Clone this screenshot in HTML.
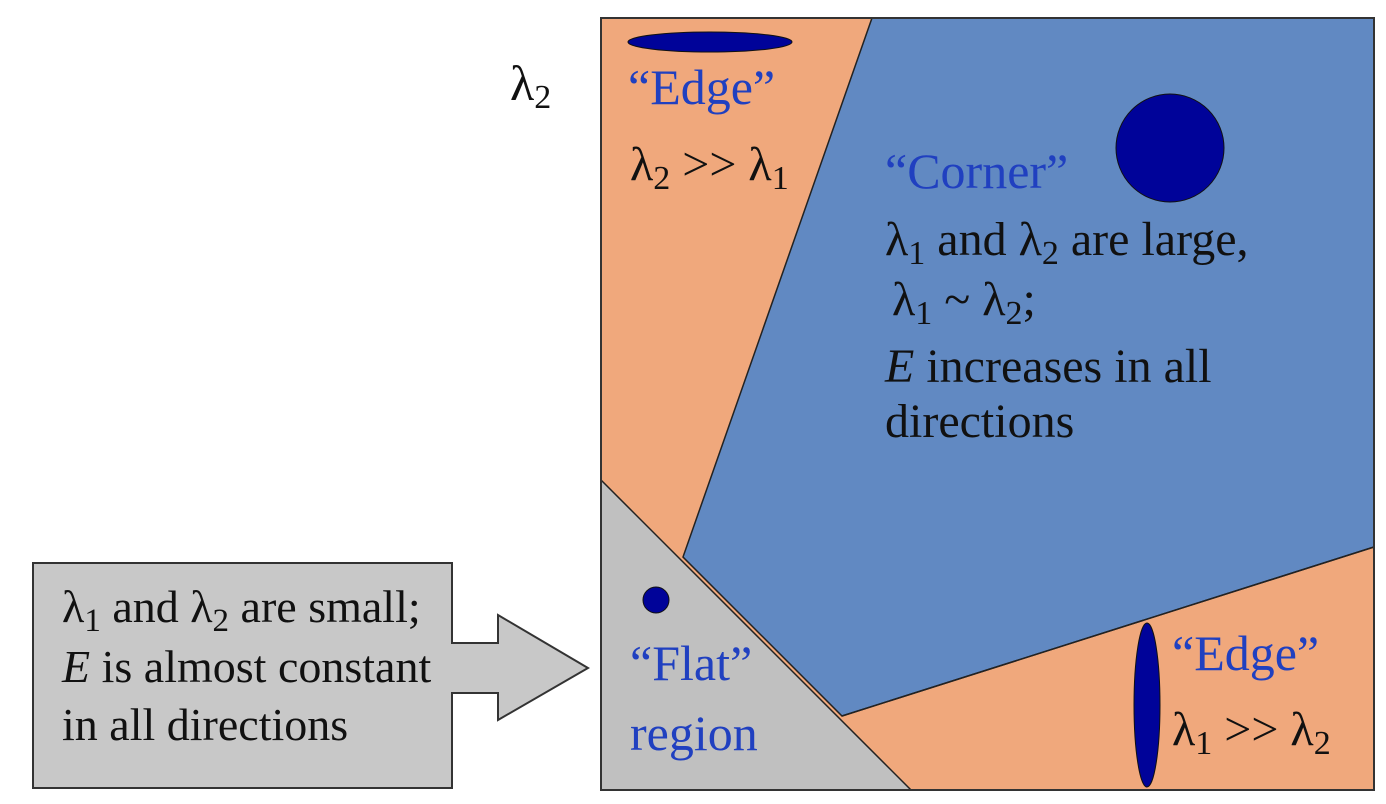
<!DOCTYPE html>
<html><head><meta charset="utf-8"><style>
body{margin:0;background:#fff;}
svg{display:block;}
text{font-family:"Liberation Serif","Times New Roman","DejaVu Serif",serif;}
</style></head><body>
<svg width="1386" height="804" viewBox="0 0 1386 804" font-family="Liberation Serif, DejaVu Serif, serif">
<rect x="601" y="18" width="773" height="772" fill="#f0a87c"/>
<polygon points="872,18 1374,18 1374,547 842,716 683,557" fill="#6189c2" stroke="#222" stroke-width="1.5"/>
<polygon points="601,480 911,790 601,790" fill="#c0c0c0" stroke="#222" stroke-width="1.5"/>
<line x1="842" y1="716" x2="1374" y2="547" stroke="#222" stroke-width="1.5"/>
<rect x="601" y="18" width="773" height="772" fill="none" stroke="#333" stroke-width="2"/>
<ellipse cx="710" cy="42" rx="82" ry="10" fill="#000399" stroke="#111"/>
<circle cx="1170" cy="148" r="54" fill="#000399" stroke="#111"/>
<circle cx="656" cy="600" r="13" fill="#000399" stroke="#111"/>
<ellipse cx="1147" cy="705" rx="13" ry="82" fill="#000399" stroke="#111"/>
<text x="510" y="100" font-size="50" fill="#111">λ<tspan font-size="34" dy="8">2</tspan></text>
<g font-size="50" fill="#2040c0">
<text x="628" y="104">“Edge”</text>
<text x="885" y="188">“Corner”</text>
<text x="630" y="680">“Flat”</text>
<text x="630" y="750">region</text>
<text x="1172" y="670">“Edge”</text>
</g>
<g font-size="48" fill="#111">
<text x="630" y="180">λ<tspan font-size="34" dy="9">2</tspan><tspan dy="-9"> &gt;&gt; λ</tspan><tspan font-size="34" dy="9">1</tspan></text>
<text x="1172" y="745">λ<tspan font-size="34" dy="9">1</tspan><tspan dy="-9"> &gt;&gt; λ</tspan><tspan font-size="34" dy="9">2</tspan></text>
<text x="885" y="255">λ<tspan font-size="34" dy="9">1</tspan><tspan dy="-9"> and λ</tspan><tspan font-size="34" dy="9">2</tspan><tspan dy="-9"> are large,</tspan></text>
<text x="892" y="315">λ<tspan font-size="34" dy="9">1</tspan><tspan dy="-9"> ~ λ</tspan><tspan font-size="34" dy="9">2</tspan><tspan dy="-9">;</tspan></text>
<text x="885" y="382"><tspan font-style="italic">E</tspan> increases in all</text>
<text x="885" y="437">directions</text>
</g>
<polygon points="33,563 452,563 452,643 498,643 498,615 588,668 498,720 498,693 452,693 452,788 33,788" fill="#c8c8c8" stroke="#333" stroke-width="2"/>
<g font-size="46" fill="#111">
<text x="62" y="622">λ<tspan font-size="33" dy="9">1</tspan><tspan dy="-9"> and λ</tspan><tspan font-size="33" dy="9">2</tspan><tspan dy="-9"> are small;</tspan></text>
<text x="62" y="682"><tspan font-style="italic">E</tspan> is almost constant</text>
<text x="62" y="740">in all directions</text>
</g>
</svg>
</body></html>
